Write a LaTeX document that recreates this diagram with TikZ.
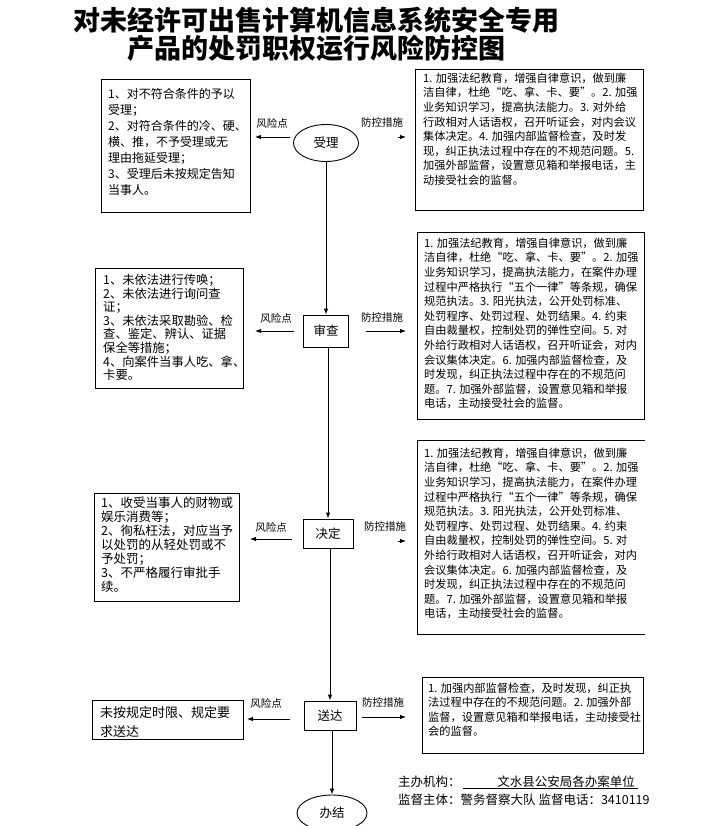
\documentclass[tikz,border=0pt]{standalone}
\usepackage{fontspec}
\setmainfont{Noto Sans CJK SC}
\usetikzlibrary{shapes.geometric,arrows.meta}
\tikzset{
  box/.style={draw, line width=0.9pt, inner sep=0, anchor=north west},
  ltext/.style={anchor=north west, inner sep=0, align=left},
  rtext/.style={anchor=north west, inner sep=0, align=left, font=\fontsize{11.2}{14.6}\selectfont},
  lab/.style={inner sep=0, font=\fontsize{10.5}{12}\selectfont},
  arr/.style={-{Latex[length=6pt,width=4.5pt]}, line width=0.9pt},
  stagebox/.style={draw, line width=0.9pt, inner sep=0, font=\fontsize{12.5}{14}\selectfont},
  stageell/.style={ellipse, draw, line width=0.9pt, inner sep=0, font=\fontsize{12.5}{14}\selectfont},
  titletext/.style={inner sep=0, font=\fontsize{27}{30}\selectfont\bfseries},
  foot/.style={inner sep=0, font=\fontsize{12.5}{14}\selectfont}
}
\begin{document}
\begin{tikzpicture}[x=1pt,y=-1pt]
\fill[white] (0,0) rectangle (720,826);
\useasboundingbox (0,0) rectangle (720,826);

% title
\node[titletext] (t1) at (316,20) {对未经许可出售计算机信息系统安全专用};
\node[titletext] (t2) at (316,48) {产品的处罚职权运行风险防控图};

% stages
\node[stageell, minimum width=65, minimum height=37] (shouli) at (326,143) {受理};
\node[stagebox, minimum width=45, minimum height=32] (shencha) at (326,331) {审查};
\node[stagebox, minimum width=50, minimum height=29] (jueding) at (328,533.5) {决定};
\node[stagebox, minimum width=52, minimum height=29] (songda) at (330,715.5) {送达};
\node[stageell, minimum width=70, minimum height=36] (banjie) at (332,813) {办结};

\draw[arr] (shencha.north |- shouli.south) -- (shencha.north);
\draw[arr] (jueding.north |- shencha.south) -- (jueding.north);
\draw[arr] (songda.north |- jueding.south) -- (songda.north);
\draw[arr] (banjie.north |- songda.south) -- (banjie.north);

% left boxes
\node[box, minimum width=149, minimum height=133] (L1) at (101,79) {};
\node[ltext, font=\fontsize{12}{16}\selectfont] (L1t) at (108,88) {1、对不符合条件的予以\\受理；\\2、对符合条件的冷、硬、\\横、推，不予受理或无\\理由拖延受理；\\3、受理后未按规定告知\\当事人。};

\node[box, minimum width=148, minimum height=120] (L2) at (95,268) {};
\node[ltext, font=\fontsize{12.3}{13.6}\selectfont] (L2t) at (103,274) {1、未依法进行传唤；\\2、未依法进行询问查\\证；\\3、未依法采取勘验、检\\查、鉴定、辨认、证据\\保全等措施；\\4、向案件当事人吃、拿、\\卡要。};

\node[box, minimum width=145, minimum height=108] (L3) at (94,493) {};
\node[ltext, font=\fontsize{12.5}{14}\selectfont] (L3t) at (101,497) {1、收受当事人的财物或\\娱乐消费等；\\2、徇私枉法，对应当予\\以处罚的从轻处罚或不\\予处罚；\\3、不严格履行审批手\\续。};

\node[box, minimum width=151, minimum height=39] (L4) at (92,700) {};
\node[ltext, font=\fontsize{13}{19}\selectfont] (L4t) at (100,706) {未按规定时限、规定要\\求送达};

% right boxes
\node[box, minimum width=228, minimum height=141] (R1) at (415,69) {};
\node[rtext] (R1t) at (423,72.5) {1. 加强法纪教育，增强自律意识，做到廉\\洁自律，杜绝“吃、拿、卡、要”。2. 加强\\业务知识学习，提高执法能力。3. 对外给\\行政相对人话语权，召开听证会，对内会议\\集体决定。4. 加强内部监督检查，及时发\\现，纠正执法过程中存在的不规范问题。5.\\加强外部监督，设置意见箱和举报电话，主\\动接受社会的监督。};

\node[box, minimum width=227, minimum height=187] (R2) at (417,232) {};
\node[rtext] (R2t) at (424,237.5) {1. 加强法纪教育，增强自律意识，做到廉\\洁自律，杜绝“吃、拿、卡、要”。2. 加强\\业务知识学习，提高执法能力，在案件办理\\过程中严格执行“五个一律”等条规，确保\\规范执法。3. 阳光执法，公开处罚标准、\\处罚程序、处罚过程、处罚结果。4. 约束\\自由裁量权，控制处罚的弹性空间。5. 对\\外给行政相对人话语权，召开听证会，对内\\会议集体决定。6. 加强内部监督检查，及\\时发现，纠正执法过程中存在的不规范问\\题。7. 加强外部监督，设置意见箱和举报\\电话，主动接受社会的监督。};

\node[inner sep=0, anchor=north west, minimum width=228, minimum height=194] (R3) at (417,440) {};
\draw[line width=0.9pt] (R3.north east) -- (R3.north west) -- (R3.south west) -- (R3.south east);
\node[rtext] (R3t) at (424,447.5) {1. 加强法纪教育，增强自律意识，做到廉\\洁自律，杜绝“吃、拿、卡、要”。2. 加强\\业务知识学习，提高执法能力，在案件办理\\过程中严格执行“五个一律”等条规，确保\\规范执法。3. 阳光执法，公开处罚标准、\\处罚程序、处罚过程、处罚结果。4. 约束\\自由裁量权，控制处罚的弹性空间。5. 对\\外给行政相对人话语权，召开听证会，对内\\会议集体决定。6. 加强内部监督检查，及\\时发现，纠正执法过程中存在的不规范问\\题。7. 加强外部监督，设置意见箱和举报\\电话，主动接受社会的监督。};

\node[box, minimum width=221, minimum height=76] (R4) at (422,677) {};
\node[rtext] (R4t) at (428,682.5) {1. 加强内部监督检查，及时发现，纠正执\\法过程中存在的不规范问题。2. 加强外部\\监督，设置意见箱和举报电话，主动接受社\\会的监督。};

% risk / control labels and arrows
\node[lab] (fx1) at (272,123) {风险点};
\node[lab] (fk1) at (382,123) {防控措施};
\coordinate (a1s) at (290,137); \coordinate (a1e) at (255,137);
\draw[arr] (a1s) -- (a1e);
\coordinate (b1s) at (398,137); \coordinate (b1e) at (406,137);
\draw[arr] (b1s) -- (b1e);

\node[lab] (fx2) at (276,318) {风险点};
\node[lab] (fk2) at (382,318) {防控措施};
\coordinate (a2s) at (294,331); \coordinate (a2e) at (255,331);
\draw[arr] (a2s) -- (a2e);
\coordinate (b2s) at (366,331); \coordinate (b2e) at (406,331);
\draw[arr] (b2s) -- (b2e);

\node[lab] (fx3) at (271,527) {风险点};
\node[lab] (fk3) at (385,527) {防控措施};
\coordinate (a3s) at (292,539); \coordinate (a3e) at (250,539);
\draw[arr] (a3s) -- (a3e);
\coordinate (b3s) at (398,541); \coordinate (b3e) at (406,541);
\draw[arr] (b3s) -- (b3e);

\node[lab] (fx4) at (266,703) {风险点};
\node[lab] (fk4) at (383,703) {防控措施};
\coordinate (a4s) at (290,719); \coordinate (a4e) at (247,719);
\draw[arr] (a4s) -- (a4e);
\coordinate (b4s) at (362,717); \coordinate (b4e) at (406,717);
\draw[arr] (b4s) -- (b4e);

% footer
\node[foot, anchor=west] (zb) at (398,782) {主办机构：};
\node[foot] (zbv) at (566,782) {文水县公安局各办案单位};
\node[inner sep=0, minimum width=175, minimum height=12] (zbu) at (550.5,782) {};
\draw[line width=0.8pt] (zbu.south west) -- (zbu.south east);
\node[foot, anchor=west] (jd) at (398,800) {监督主体：警务督察大队 监督电话：3410119};
\end{tikzpicture}
\end{document}
